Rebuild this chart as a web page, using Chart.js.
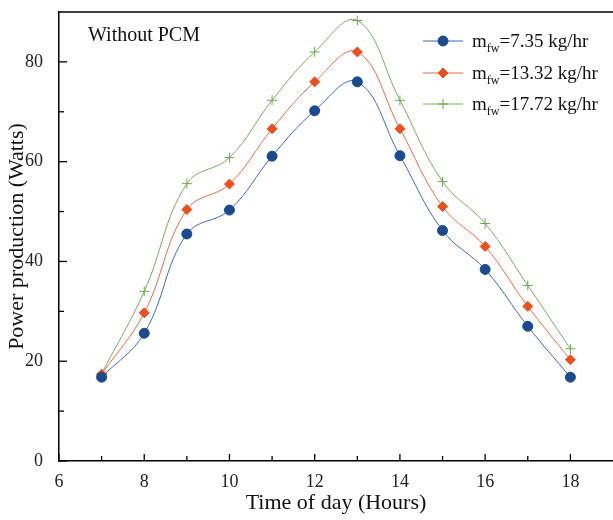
<!DOCTYPE html>
<html><head><meta charset="utf-8">
<script src="https://cdn.jsdelivr.net/npm/chart.js@4/dist/chart.umd.min.js"></script>
<style>html,body{margin:0;padding:0;background:#fff}#wrap{width:613px;height:520px}</style>
</head><body><div id="wrap"><canvas id="c" width="613" height="520"></canvas></div>
<script>
const hours = [7,8,9,10,11,12,13,14,15,16,17,18];
const flow1 = [16.8,25.6,45.5,50.3,61.1,70.2,76.0,61.2,46.2,38.4,27.0,16.8];
const flow2 = [17.4,29.7,50.4,55.5,66.6,76.0,82.0,66.6,51.0,43.0,31.0,20.3];
const flow3 = [17.5,34.0,55.6,60.8,72.3,82.0,88.3,72.3,56.0,47.6,35.2,22.5];
const seriesNames = ["=7.35 kg/hr","=13.32 kg/hr","=17.72 kg/hr"];
const xTicks = [6,8,10,12,14,16,18];
const xMinor = [7,9,11,13,15,17];
const yTicks = [0,20,40,60,80];
const yMinor = [10,30,50,70];
const SERIF = '"Liberation Serif","Times New Roman",serif';

const mk = (arr)=>hours.map((h,i)=>({x:h,y:arr[i]}));
const colors = [
  {line:'#3a6cc0', pt:'#1c4a8e', style:'circle', r:5},
  {line:'#ec6a45', pt:'#e8501e', style:'rectRot', r:5},
  {line:'#7aab5c', pt:'#6ea84e', style:'cross', r:5}
];
const data = [flow1,flow2,flow3];

const framePlugin = {
  id:'frame',
  afterDraw(chart){
    const {ctx, chartArea:a, scales:{x,y}} = chart;
    ctx.save();
    ctx.strokeStyle='#000'; ctx.lineWidth=1.5;
    ctx.beginPath();ctx.moveTo(a.left,a.top);ctx.lineTo(a.right+2,a.top);ctx.stroke();
    ctx.lineWidth=1.3;
    xTicks.forEach(v=>{const p=x.getPixelForValue(v);ctx.beginPath();ctx.moveTo(p,a.bottom);ctx.lineTo(p,a.bottom-7);ctx.stroke();});
    xMinor.forEach(v=>{const p=x.getPixelForValue(v);ctx.beginPath();ctx.moveTo(p,a.bottom);ctx.lineTo(p,a.bottom-5);ctx.stroke();});
    yTicks.forEach(v=>{const p=y.getPixelForValue(v);ctx.beginPath();ctx.moveTo(a.left,p);ctx.lineTo(a.left+8,p);ctx.stroke();});
    yMinor.forEach(v=>{const p=y.getPixelForValue(v);ctx.beginPath();ctx.moveTo(a.left,p);ctx.lineTo(a.left+5,p);ctx.stroke();});
    ctx.fillStyle='#111';
    ctx.font='20px '+SERIF;
    ctx.textBaseline='alphabetic';ctx.textAlign='left';
    ctx.fillText('Without PCM', 88, 41);
    const ys=[41,73,104];
    seriesNames.forEach((name,i)=>{
      const c=colors[i], yy=ys[i];
      ctx.strokeStyle=c.line; ctx.lineWidth=1;
      ctx.beginPath();ctx.moveTo(423,yy);ctx.lineTo(463,yy);ctx.stroke();
      ctx.fillStyle=c.pt; ctx.strokeStyle=c.pt;
      Chart.helpers.drawPoint(ctx,{pointStyle:c.style,radius:c.r,borderWidth:1},443,yy);
      ctx.fillStyle='#111';
      ctx.font='19px '+SERIF;
      ctx.fillText('m',472,yy+6);
      const mw=ctx.measureText('m').width;
      ctx.font='12px '+SERIF;
      ctx.fillText('fw',472+mw,yy+11);
      const fw=ctx.measureText('fw').width;
      ctx.font='19px '+SERIF;
      ctx.fillText(name,472+mw+fw,yy+6);
    });
    ctx.restore();
  }
};

new Chart(document.getElementById('c'),{
  type:'line',
  data:{datasets:data.map((arr,i)=>({
    data:mk(arr),
    borderColor:colors[i].line,
    backgroundColor:colors[i].pt,
    pointBorderColor:colors[i].pt,
    pointBackgroundColor:colors[i].pt,
    pointStyle:colors[i].style,
    pointRadius:colors[i].r,
    pointBorderWidth:1,
    borderWidth:1,
    tension:0.4,
    fill:false
  }))},
  plugins:[framePlugin],
  options:{
    responsive:false,animation:false,
    layout:{autoPadding:false,padding:{top:12,right:0,left:0,bottom:0}},
    plugins:{legend:{display:false},tooltip:{enabled:false}},
    scales:{
      x:{type:'linear',min:6,max:19,
        grid:{display:false},border:{display:true,color:'#000',width:1.5},
        afterBuildTicks(s){s.ticks=xTicks.map(v=>({value:v}));},
        afterFit(s){s.height=59;s.paddingLeft=0;s.paddingRight=0;},
        ticks:{color:'#222',font:{family:SERIF,size:18},padding:2,maxRotation:0},
        title:{display:true,text:'Time of day (Hours)',color:'#111',font:{family:SERIF,size:22},padding:{top:0}}
      },
      y:{min:0,max:90,
        grid:{display:false},border:{display:true,color:'#000',width:1.5},
        afterBuildTicks(s){s.ticks=yTicks.map(v=>({value:v}));},
        afterFit(s){s.width=59;s.paddingTop=0;s.paddingBottom=0;},
        ticks:{color:'#222',font:{family:SERIF,size:18},padding:8},
        title:{display:true,text:'Power production (Watts)',color:'#111',font:{family:SERIF,size:22},padding:{bottom:0}}
      }
    }
  }
});
</script></body></html>
